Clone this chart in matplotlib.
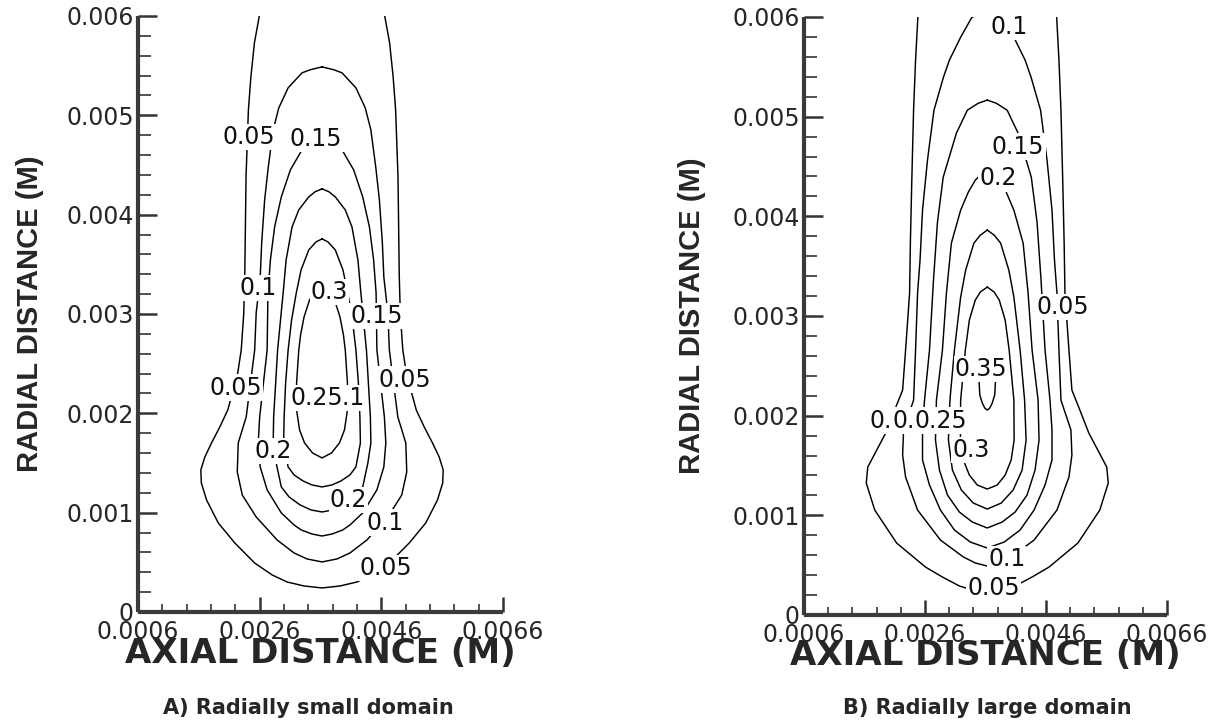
import numpy as np
import matplotlib
matplotlib.use("Agg")
import matplotlib.pyplot as plt
from matplotlib.ticker import FixedLocator, FixedFormatter, MultipleLocator

# ---------------- data (lengths in units of 1e-4 m) ----------------
UNIT = 1e-4

X_TICKS = [0.0006, 0.0026, 0.0046, 0.0066]
X_TICK_LABELS = ["0.0006", "0.0026", "0.0046", "0.0066"]
Y_TICKS = [0.0, 0.001, 0.002, 0.003, 0.004, 0.005, 0.006]
Y_TICK_LABELS = ["0", "0.001", "0.002", "0.003", "0.004", "0.005", "0.006"]

# ---- Panel A: radially small domain (contour = centre +/- half width at height y)
A_CENTER = 36.25
A_Y_005 = [60.0, 57.30, 53.88, 50.55, 43.81, 33.74, 30.01, 26.38, 24.07, 20.34, 18.63,
           17.02, 15.61, 14.30, 12.99, 11.28, 8.96, 6.95, 4.93, 3.73, 3.02, 2.62, 2.42]
A_HW_005 = [10.31, 11.11, 11.69, 12.10, 12.49, 12.70, 12.87, 13.28, 13.85, 15.49, 16.80,
            18.16, 19.26, 19.92, 19.84, 18.98, 17.05, 14.34, 11.07, 8.20, 5.74, 2.95, 0.0]
A_Y_010 = [54.88, 54.58, 54.28, 52.77, 50.76, 48.54, 44.71, 41.49, 37.16, 33.74, 30.11,
           26.38, 19.64, 17.02, 14.10, 11.78, 9.57, 7.25, 5.94, 5.34, 5.04]
A_HW_010 = [0.0, 1.97, 3.28, 5.57, 7.10, 8.03, 8.85, 9.43, 9.92, 10.16, 10.82,
            11.07, 12.46, 13.77, 13.93, 13.11, 10.82, 7.38, 4.59, 2.46, 0.0]
A_Y_015 = [47.83, 47.53, 47.13, 46.53, 44.51, 41.79, 38.77, 35.45, 32.12, 26.38, 19.64,
           17.02, 14.60, 12.29, 9.97, 8.76, 8.26, 7.85, 7.65]
A_HW_015 = [0.0, 1.31, 2.30, 3.28, 5.20, 6.69, 7.79, 8.48, 8.89, 9.02, 10.25,
            10.49, 10.16, 9.02, 6.69, 4.59, 3.41, 1.64, 0.0]
A_Y_020 = [42.60, 42.30, 41.79, 40.48, 38.77, 35.45, 32.12, 26.38, 19.64, 17.02, 15.01,
           12.59, 11.58, 10.78, 10.27, 10.07]
A_HW_020 = [0.0, 1.15, 2.18, 3.82, 4.92, 5.90, 6.39, 7.30, 7.95, 8.03, 7.54,
            6.69, 5.41, 3.61, 1.80, 0.0]
A_Y_025 = [37.56, 37.26, 36.45, 34.44, 32.12, 29.41, 26.38, 23.06, 19.64, 17.02, 14.60,
           13.80, 13.19, 12.79, 12.59]
A_HW_025 = [0.0, 0.98, 2.18, 3.44, 4.23, 5.00, 5.57, 5.98, 6.23, 6.31, 5.57,
            4.59, 3.11, 1.64, 0.0]
A_Y_030 = [32.93, 32.23, 31.42, 29.71, 27.90, 26.38, 23.06, 20.34, 18.33, 17.02, 16.01, 15.51]
A_HW_030 = [0.0, 1.15, 2.05, 2.95, 3.52, 3.82, 4.18, 4.18, 3.69, 2.87, 1.56, 0.0]

A_LABELS = ["0.05", "0.15", "0.1", "0.3", "0.15", "0.05", "0.05", "0.2", "0.2", "0.1", "0.05"]
A_LABEL_X = [24.2, 35.3, 25.75, 37.5, 45.2, 22.1, 49.85, 28.2, 40.6, 46.7, 46.7]
A_LABEL_Y = [47.8, 47.6, 32.6, 32.2, 29.8, 22.6, 23.4, 16.2, 11.3, 9.0, 4.4]
# overlapping labels that read "0.25.1"
A_STACK = ["0.25", "0.1"]
A_STACK_X = 37.2
A_STACK_Y = 21.55

# ---- Panel B: radially large domain
B_CENTER = 36.29
B_Y_005 = [60.0, 55.67, 50.65, 43.93, 37.31, 32.30, 26.58, 22.57, 20.56, 18.25, 16.55,
           14.84, 13.24, 10.53, 7.22, 4.81, 3.81, 2.91, 2.41, 2.31]
B_HW_005 = [11.47, 11.85, 12.18, 12.46, 12.71, 12.84, 13.50, 13.99, 15.31, 16.79, 18.27,
            19.75, 20.00, 18.60, 14.98, 10.21, 7.41, 4.61, 1.98, 0.0]
B_Y_010 = [60.88, 60.48, 59.88, 57.97, 55.67, 53.96, 50.65, 45.64, 40.62, 35.61, 32.30,
           26.58, 21.56, 18.56, 16.05, 13.84, 10.53, 7.52, 5.82, 5.22, 4.91]
B_HW_010 = [0.0, 1.48, 2.63, 4.40, 6.26, 7.24, 8.81, 9.88, 10.70, 11.11, 11.52,
            11.85, 12.18, 13.83, 13.99, 13.50, 11.52, 7.74, 3.95, 1.98, 0.0]
B_Y_015 = [51.66, 51.35, 50.65, 48.35, 43.93, 39.42, 33.60, 26.58, 21.56, 18.56, 15.55,
           13.04, 10.53, 8.53, 7.32, 6.72]
B_HW_015 = [0.0, 1.48, 3.29, 5.10, 7.28, 8.23, 8.89, 9.55, 10.37, 10.70, 10.70,
            9.55, 7.74, 5.43, 2.80, 0.0]
B_Y_020 = [44.43, 44.13, 43.63, 42.43, 40.62, 37.31, 32.30, 26.58, 21.56, 17.55, 14.54,
           12.04, 10.33, 9.33, 8.73]
B_HW_020 = [0.0, 1.15, 1.98, 3.13, 4.40, 5.93, 6.75, 7.41, 8.40, 8.56, 7.90,
            6.58, 4.61, 2.47, 0.0]
B_Y_025 = [38.62, 38.11, 37.31, 34.60, 31.90, 26.58, 21.56, 17.55, 14.54, 12.54, 11.23, 10.63]
B_HW_025 = [0.0, 1.15, 2.21, 3.57, 4.40, 5.43, 6.17, 6.42, 5.76, 4.28, 2.30, 0.0]
B_Y_030 = [32.90, 32.40, 31.60, 29.59, 26.58, 21.56, 17.55, 15.55, 14.04, 13.04, 12.64]
B_HW_030 = [0.0, 1.15, 1.98, 2.96, 3.62, 4.40, 4.44, 3.95, 2.96, 1.65, 0.0]
B_Y_035 = [24.97, 24.57, 23.57, 22.07, 21.26, 20.76, 20.56]
B_HW_035 = [0.0, 0.99, 1.37, 1.23, 0.82, 0.41, 0.0]

B_LABELS = ["0.1", "0.15", "0.2", "0.05", "0.35", "0.3", "0.1", "0.05"]
B_LABEL_X = [39.9, 41.4, 38.1, 48.8, 35.3, 33.6, 39.5, 37.4]
B_LABEL_Y = [59.0, 47.0, 43.8, 30.9, 24.7, 16.55, 5.6, 2.7]
# overlapping labels that read "0.0.0.25"
B_STACK = ["0.05", "0.1", "0.25"]
B_STACK_X = 24.9
B_STACK_Y = 19.5

A_CONTOURS = [(A_Y_005, A_HW_005), (A_Y_010, A_HW_010), (A_Y_015, A_HW_015),
              (A_Y_020, A_HW_020), (A_Y_025, A_HW_025), (A_Y_030, A_HW_030)]
B_CONTOURS = [(B_Y_005, B_HW_005), (B_Y_010, B_HW_010), (B_Y_015, B_HW_015),
              (B_Y_020, B_HW_020), (B_Y_025, B_HW_025), (B_Y_030, B_HW_030),
              (B_Y_035, B_HW_035)]

# ---------------- styling ----------------
FS_TICK = 17
FS_CLAB = 17
TXT = "#262626"
LAB_FONT = ["DejaVu Sans"]
BOX = dict(facecolor="white", edgecolor="none", pad=0.8)

fig = plt.figure(figsize=(12.25, 7.23), dpi=100)
axA = fig.add_axes([0.11265, 0.15353, 0.29796, 0.82434])
axB = fig.add_axes([0.65633, 0.14938, 0.29633, 0.82711])


def draw_contour(ax, xc, ys, hws):
    ys = np.asarray(ys) * UNIT
    hws = np.asarray(hws) * UNIT
    x = np.concatenate([xc * UNIT - hws, (xc * UNIT + hws)[::-1]])
    y = np.concatenate([ys, ys[::-1]])
    ax.plot(x, y, color="black", lw=1.05, solid_joinstyle="round", zorder=2)


def put_label(ax, text, x, y, z=4):
    ax.text(x * UNIT, y * UNIT, text, ha="center", va="center", fontsize=FS_CLAB,
            family=LAB_FONT, color="#111111", bbox=BOX, zorder=z)


# DejaVu Sans advance widths (em) used to offset overlapping labels
ADV = {"0": 0.636, ".": 0.318, "1": 0.636, "2": 0.636, "5": 0.636}


def width_em(s):
    return sum(ADV.get(c, 0.636) for c in s)


def put_stack(ax, texts, x, y, overlap_chars):
    # each following label starts after `overlap_chars` visible characters of the previous
    offsets = [0.0]
    for i in range(1, len(texts)):
        offsets.append(offsets[-1] + width_em(texts[i - 1][:overlap_chars[i - 1]]))
    total = offsets[-1] + width_em(texts[-1])
    for i, t in enumerate(texts):
        dx = (offsets[i] - total / 2.0) * FS_CLAB
        ax.annotate(t, xy=(x * UNIT, y * UNIT), xytext=(dx, 0), textcoords="offset points",
                    ha="left", va="center", fontsize=FS_CLAB, family=LAB_FONT,
                    color="#111111", bbox=BOX, zorder=5 + i)


for ax, xc, contours in ((axA, A_CENTER, A_CONTOURS), (axB, B_CENTER, B_CONTOURS)):
    for ys, hws in contours:
        draw_contour(ax, xc, ys, hws)

for t, x, y in zip(A_LABELS, A_LABEL_X, A_LABEL_Y):
    put_label(axA, t, x, y)
for t, x, y in zip(B_LABELS, B_LABEL_X, B_LABEL_Y):
    put_label(axB, t, x, y)

# "0.25.1": the "0.1" sits under the "5" of "0.25" (drawn first, then covered)
half = (width_em("0.2") + width_em("0.1")) / 2
axA.annotate(A_STACK[1], xy=(A_STACK_X * UNIT, A_STACK_Y * UNIT),
             xytext=((width_em("0.2") - half) * FS_CLAB, 0),
             textcoords="offset points", ha="left", va="center", fontsize=FS_CLAB,
             family=LAB_FONT, color="#111111", bbox=BOX, zorder=5)
axA.annotate(A_STACK[0], xy=(A_STACK_X * UNIT, A_STACK_Y * UNIT),
             xytext=(-half * FS_CLAB, 0),
             textcoords="offset points", ha="left", va="center", fontsize=FS_CLAB,
             family=LAB_FONT, color="#111111", bbox=BOX, zorder=6)

put_stack(axB, B_STACK, B_STACK_X, B_STACK_Y, [2, 2])

for ax, ylab_x, xlab_y in ((axA, -0.297, -0.0696), (axB, -0.3085, -0.067)):
    ax.set_xlim(0.0006, 0.0066)
    ax.set_ylim(0.0, 0.006)
    for s in ("top", "right"):
        ax.spines[s].set_visible(False)
    for s in ("left", "bottom"):
        ax.spines[s].set_linewidth(3.0)
        ax.spines[s].set_color("#3a3a3a")
        ax.spines[s].set_capstyle("butt")
    ax.xaxis.set_major_locator(FixedLocator(X_TICKS))
    ax.xaxis.set_major_formatter(FixedFormatter(X_TICK_LABELS))
    ax.yaxis.set_major_locator(FixedLocator(Y_TICKS))
    ax.yaxis.set_major_formatter(FixedFormatter(Y_TICK_LABELS))
    ax.xaxis.set_minor_locator(MultipleLocator(0.0004, offset=0.0002))
    ax.yaxis.set_minor_locator(MultipleLocator(0.0002))
    ax.tick_params(which="both", direction="in", top=False, right=False,
                   color="#333333", labelcolor=TXT, labelsize=FS_TICK)
    ax.tick_params(axis="y", which="major", length=14, width=1.8, pad=3)
    ax.tick_params(axis="y", which="minor", length=9, width=1.2)
    ax.tick_params(axis="x", which="major", length=10.5, width=1.8, pad=6)
    ax.tick_params(axis="x", which="minor", length=5.5, width=1.2)
    ax.set_xlabel("AXIAL DISTANCE (M)", fontsize=24.5, fontweight="bold",
                  family=["DejaVu Sans"], color=TXT, va="center")
    ax.xaxis.set_label_coords(0.5, xlab_y)
    ax.set_ylabel("RADIAL DISTANCE (M)", fontsize=21, fontweight="bold",
                  family=["Liberation Sans", "DejaVu Sans"], color=TXT, va="center")
    ax.yaxis.set_label_coords(ylab_x, 0.5)

fig.text(308.5 / 1225, 1 - 708 / 723, "A) Radially small domain", ha="center", va="center",
         fontsize=15, fontweight="bold", family=["DejaVu Sans"], color=TXT)
fig.text(987 / 1225, 1 - 708 / 723, "B) Radially large domain", ha="center", va="center",
         fontsize=15, fontweight="bold", family=["DejaVu Sans"], color=TXT)

fig.savefig("out.png", dpi=100, facecolor="white")
